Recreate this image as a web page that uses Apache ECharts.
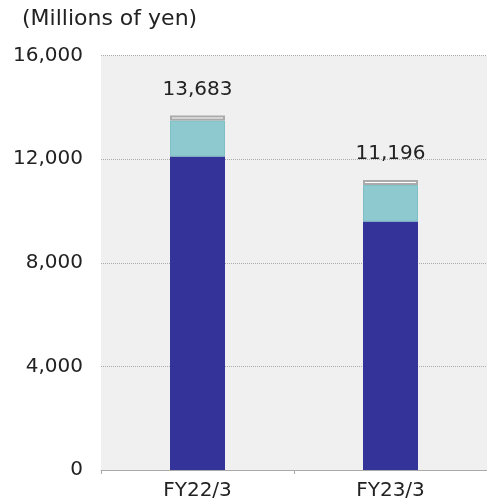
<!DOCTYPE html>
<html>
<head>
<meta charset="utf-8">
<script src="https://cdn.jsdelivr.net/npm/echarts@6/dist/echarts.min.js"></script>
<style>
  html, body { margin: 0; padding: 0; background: #ffffff; }
  #chart { width: 487px; height: 502px; }
</style>
</head>
<body>
<div id="chart"></div>
<script>
// Fiscal years on the category axis
const categories = ['FY22/3', 'FY23/3'];
// Stacked components (millions of yen)
const coreValues = [12100, 9590];
const secondaryValues = [1390, 1414];
const otherValues = [193, 192];
// Totals printed above each stack
const totals = [13683, 11196];
// Value axis ticks
const yTicks = { min: 0, max: 16000, interval: 4000 };

const font = '"DejaVu Sans", "Noto Sans", sans-serif';
const fmt = v => v.toLocaleString('en-US');

const chart = echarts.init(document.getElementById('chart'), null, { renderer: 'canvas' });

chart.setOption({
  animation: false,
  textStyle: { fontFamily: font },
  title: {
    text: '(Millions of yen)',
    left: 17,
    top: 3,
    textStyle: { fontFamily: font, fontSize: 22, fontWeight: 'normal', color: '#222222' }
  },
  grid: {
    left: 101,
    top: 55.5,
    width: 394,
    height: 414.5,
    show: true,
    backgroundColor: '#f0f0f0',
    borderWidth: 0
  },
  xAxis: {
    type: 'category',
    data: categories,
    axisLine: { lineStyle: { color: '#aaaaaa', width: 1 } },
    axisTick: { show: true, length: 4, lineStyle: { color: '#aaaaaa' } },
    axisLabel: { color: '#222222', fontSize: 20, margin: 11, fontFamily: font }
  },
  yAxis: {
    type: 'value',
    min: yTicks.min,
    max: yTicks.max,
    interval: yTicks.interval,
    axisLine: { show: false },
    axisTick: { show: false },
    axisLabel: { color: '#222222', fontSize: 20, margin: 18, fontFamily: font, formatter: v => fmt(v) },
    splitLine: { show: true, lineStyle: { color: '#aaaaaa', type: 'dotted', width: 1 } }
  },
  series: [
    {
      name: 'core',
      type: 'bar',
      stack: 'total',
      barWidth: 55,
      data: coreValues,
      itemStyle: { color: '#333399' }
    },
    {
      name: 'secondary',
      type: 'bar',
      stack: 'total',
      barWidth: 55,
      data: secondaryValues,
      itemStyle: { color: '#8ec9cf', borderColor: '#7cc0c6', borderWidth: 1 }
    },
    {
      name: 'other',
      type: 'bar',
      stack: 'total',
      barWidth: 55,
      data: otherValues,
      itemStyle: { color: '#ffffff', borderColor: '#aaaaaa', borderWidth: 2 },
      label: {
        show: true,
        position: 'top',
        distance: 16,
        color: '#222222',
        fontSize: 20,
        fontFamily: font,
        formatter: p => fmt(totals[p.dataIndex])
      }
    }
  ]
});
</script>
</body>
</html>
